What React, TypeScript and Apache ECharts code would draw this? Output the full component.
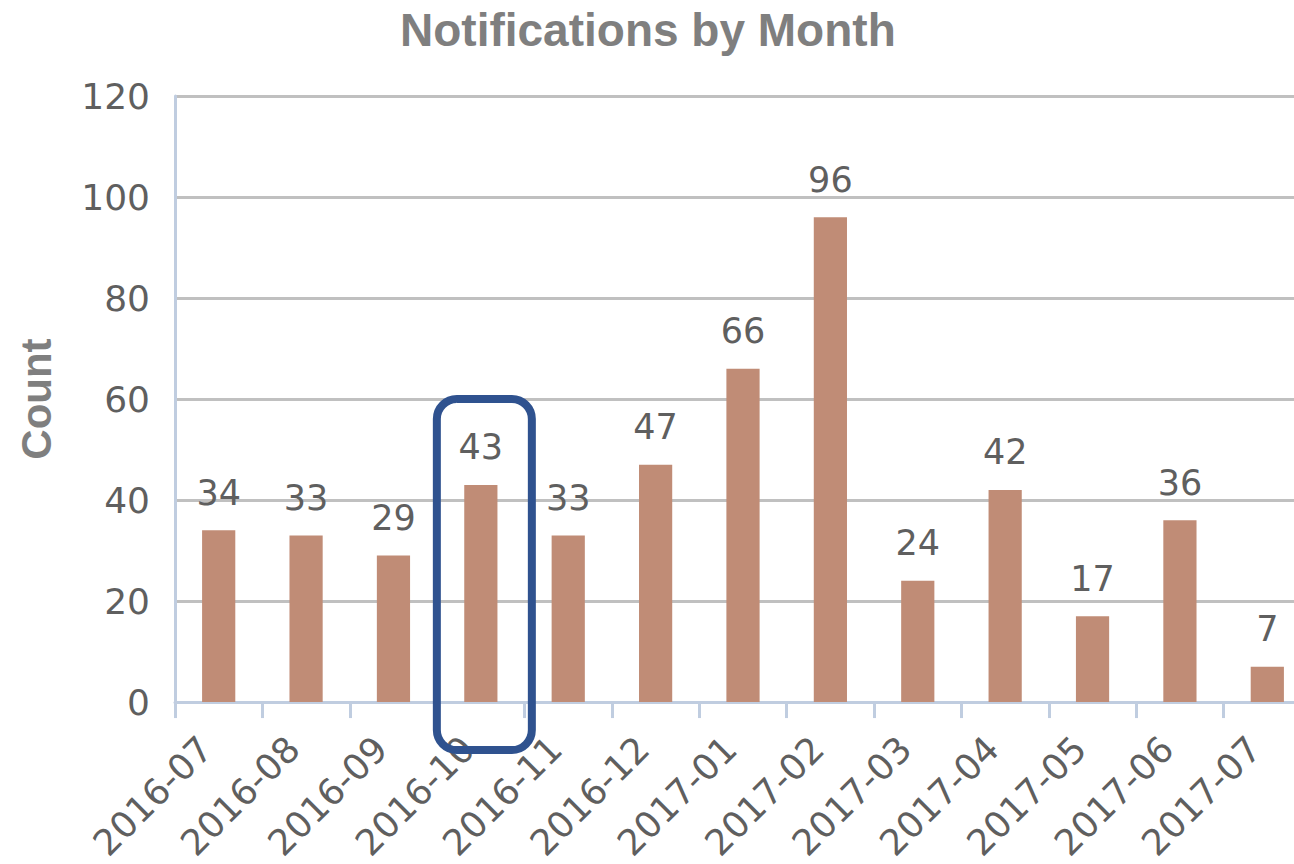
import React, { useEffect, useRef } from "react";
import * as echarts from "echarts";

const months = [
  "2016-07", "2016-08", "2016-09", "2016-10", "2016-11", "2016-12",
  "2017-01", "2017-02", "2017-03", "2017-04", "2017-05", "2017-06", "2017-07",
];
const counts = [34, 33, 29, 43, 33, 47, 66, 96, 24, 42, 17, 36, 7];
const yTicks = { min: 0, max: 120, interval: 20 };
const highlightIndex = 3;
const highlightTopValue = 60;

const TEXT_GRAY = "#5f5f5f";
const AXIS_COLOR = "#c0cde0";

export default function App() {
  const ref = useRef<HTMLDivElement>(null);
  useEffect(() => {
    if (!ref.current) return;
    const chart = echarts.init(ref.current, null, { renderer: "svg" });
    chart.setOption({
      animation: false,
      title: {
        text: "Notifications by Month",
        left: 395,
        top: 2,
        textStyle: {
          fontFamily: "Liberation Sans",
          fontWeight: "bold",
          fontSize: 46,
          color: "#7f7f7f",
        },
      },
      grid: { left: 175, right: 0, top: 96, bottom: 161, containLabel: false },
      xAxis: {
        type: "category",
        data: months,
        axisLine: { lineStyle: { color: AXIS_COLOR, width: 3 } },
        axisTick: { show: true, length: 16, lineStyle: { color: AXIS_COLOR, width: 3 } },
        axisLabel: {
          rotate: 45,
          interval: 0,
          margin: 28,
          padding: [0, 18, 0, 0],
          fontFamily: "DejaVu Sans",
          fontSize: 36,
          color: TEXT_GRAY,
        },
        splitLine: { show: false },
      },
      yAxis: {
        type: "value",
        min: yTicks.min,
        max: yTicks.max,
        interval: yTicks.interval,
        name: "Count",
        nameLocation: "middle",
        nameGap: 118,
        nameTextStyle: {
          fontFamily: "Liberation Sans",
          fontWeight: "bold",
          fontSize: 42,
          color: "#7f7f7f",
        },
        axisLine: { show: true, lineStyle: { color: AXIS_COLOR, width: 3 } },
        axisTick: { show: false },
        axisLabel: {
          margin: 25,
          fontFamily: "DejaVu Sans",
          fontSize: 36,
          color: TEXT_GRAY,
        },
        splitLine: { lineStyle: { color: "#c0c0c0", width: 3 } },
      },
      series: [
        {
          type: "bar",
          data: counts,
          barWidth: "38%",
          itemStyle: { color: "#c08c76" },
          label: {
            show: true,
            position: "top",
            distance: 20,
            fontFamily: "DejaVu Sans",
            fontSize: 35,
            color: TEXT_GRAY,
          },
        },
      ],
    });
    const cx = chart.convertToPixel({ xAxisIndex: 0 }, highlightIndex) as number;
    const yTop = chart.convertToPixel({ yAxisIndex: 0 }, highlightTopValue) as number;
    const yZero = chart.convertToPixel({ yAxisIndex: 0 }, 0) as number;
    chart.setOption({
      graphic: [
        {
          type: "rect",
          z: 100,
          shape: { x: cx - 44, y: yTop, width: 95, height: yZero - yTop + 48, r: 20 },
          style: { fill: "none", stroke: "#2f528f", lineWidth: 8 },
        },
      ],
    });
    return () => chart.dispose();
  }, []);
  return (
    <div
      style={{
        position: "absolute",
        left: 0,
        top: 0,
        width: 1294,
        height: 864,
        overflow: "hidden",
      }}
    >
      <div ref={ref} style={{ width: 1311, height: 864 }} />
    </div>
  );
}
